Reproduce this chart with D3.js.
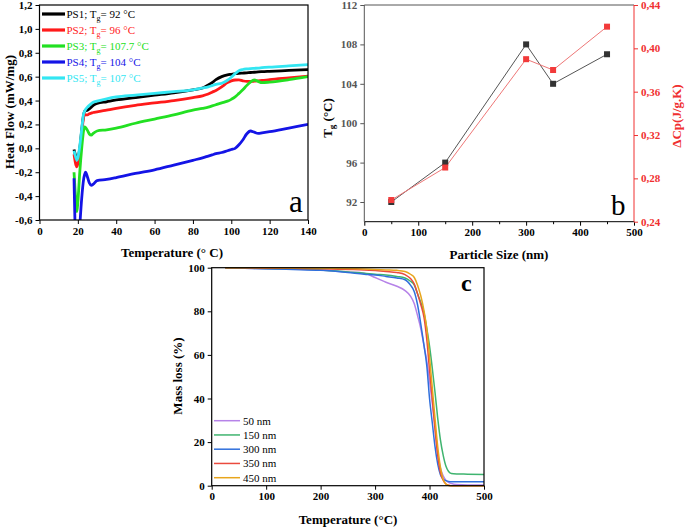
<!DOCTYPE html>
<html><head><meta charset="utf-8">
<script src="https://cdn.jsdelivr.net/npm/d3@7"></script>
<style>
body{margin:0;background:#fff;}
text{font-family:"Liberation Serif","Times New Roman",serif;}
</style></head>
<body><svg id="c" width="685" height="528"></svg>
<script>
// ---------- Panel a data (DSC) ----------
const dscTemps = [18,19,19.5,20,21,22,23,23.5,24,25,26,27,28,30,35,40,50,60,70,80,85,88,90,92,95,98,100,102,104,106,108,110,112,114,116,120,130,140];
const ps1 = [-0.01,-0.07,-0.09,-0.08,0.0,0.15,0.28,0.31,0.315,0.32,0.33,0.345,0.36,0.375,0.39,0.405,0.425,0.445,0.465,0.49,0.505,0.53,0.55,0.575,0.60,0.615,0.62,0.625,0.628,0.63,0.632,0.635,0.637,0.64,0.642,0.645,0.652,0.66];
const ps2 = [-0.05,-0.14,-0.155,-0.13,-0.03,0.12,0.26,0.28,0.28,0.28,0.29,0.295,0.30,0.305,0.32,0.335,0.36,0.38,0.40,0.425,0.44,0.455,0.47,0.485,0.515,0.55,0.565,0.572,0.573,0.565,0.56,0.56,0.562,0.565,0.568,0.575,0.59,0.605];
const ps3 = [-0.2,-0.45,-0.53,-0.45,-0.2,0.0,0.15,0.18,0.175,0.15,0.12,0.11,0.125,0.145,0.155,0.17,0.21,0.245,0.28,0.32,0.335,0.345,0.355,0.365,0.38,0.395,0.41,0.43,0.46,0.49,0.525,0.555,0.572,0.56,0.55,0.555,0.575,0.60];
const ps4 = [-0.25,-0.85,-0.9,-0.9,-0.65,-0.42,-0.26,-0.22,-0.2,-0.24,-0.29,-0.31,-0.3,-0.27,-0.26,-0.245,-0.21,-0.18,-0.14,-0.1,-0.08,-0.065,-0.055,-0.045,-0.035,-0.02,-0.01,0.0,0.03,0.07,0.12,0.145,0.135,0.125,0.13,0.14,0.17,0.20];
const ps5 = [-0.02,-0.08,-0.1,-0.08,0.02,0.16,0.29,0.31,0.325,0.345,0.36,0.375,0.385,0.395,0.415,0.43,0.445,0.46,0.475,0.49,0.505,0.515,0.525,0.535,0.545,0.57,0.595,0.625,0.65,0.66,0.665,0.668,0.67,0.672,0.675,0.68,0.69,0.70];
const psNames = ["PS1","PS2","PS3","PS4","PS5"];
const psTg = ["92","96","107.7","104","107"];
const psColors = ["#000000","#ff1a1a","#22e022","#1414e6","#33e6f2"];
const xTicksA = [0,20,40,60,80,100,120,140];
const yTicksA = [-0.6,-0.4,-0.2,0,0.2,0.4,0.6,0.8,1.0,1.2];

// ---------- Panel b data ----------
const particleSize = [50,150,300,350,450];
const tgValues = [92,96,108,104,107];
const dCpValues = [0.26,0.29,0.39,0.38,0.42];
const xTicksB = [0,100,200,300,400,500];
const yTicksB = [92,96,100,104,108,112];
const yTicksB2 = [0.24,0.28,0.32,0.36,0.40,0.44];

// ---------- Panel c data (TGA) ----------
const tgaTemps = [25,60,100,150,200,250,280,300,320,340,355,365,372,378,384,390,395,400,405,410,415,420,425,430,435,440,450,470,500];
const m50  = [100,99.8,99.5,99.3,99,98,97.5,95.5,93.3,91.5,89.5,87,83.5,78,72,64,57,48,38,27,15,8,4.5,2.5,1.5,1,0.5,0.3,0.3];
const m150 = [100,99.8,99.6,99.4,99,98,97.5,97,96.7,96,95.3,93.8,92,88,84,79,72,64,54,43,31,21,14,9,6.5,5.6,5.4,5.3,5.1];
const m300 = [100,99.8,99.5,99.2,98.8,97.8,97,96.7,96,95.3,94.5,92,89,83,74,64,55,40,29,18,10,5,3,2.3,1.9,1.8,1.8,1.8,1.8];
const m350 = [100,100,99.8,99.7,99.5,99.2,99,98.7,98.3,97.8,96.8,95,92.5,88,83,77,67,53,40,26,14,6,2.5,0.8,0.2,0,0,0,0];
const m450 = [100,100,100,99.9,99.8,99.6,99.4,99.2,99,98.8,98.3,97,95.5,92,87,80,72,59,45,31,18,8.5,3,0.8,0.1,0,0,0,0];
const tgaLabels = ["50 nm","150 nm","300 nm","350 nm","450 nm"];
const tgaColors = ["#b683e8","#3fb46f","#2f6fdc","#ea4a3e","#e8a51c"];
const xTicksC = [0,100,200,300,400,500];
const yTicksC = [0,20,40,60,80,100];

const svg = d3.select("#c");
const comma = (f) => (d) => d3.format(f)(d).replace(".", ",").replace("\u2212", "-");

function styleAxis(g, color, fontSize) {
  g.select(".domain").remove();
  g.selectAll(".tick line").attr("stroke", color);
  g.selectAll(".tick text").attr("fill", color).attr("font-weight", "bold")
    .attr("font-size", fontSize).attr("font-family", "Liberation Serif");
}

// ================= Panel a =================
const xA = d3.scaleLinear([0,140],[39.5,308]);
const yA = d3.scaleLinear([-0.6,1.2],[220,5]);
const gA = svg.append("g");
gA.append("clipPath").attr("id","clipA").append("rect")
  .attr("x", xA(0)).attr("y", yA(1.2)).attr("width", xA(140)-xA(0)).attr("height", yA(-0.6)-yA(1.2));
gA.append("g").attr("transform", `translate(0,${yA(-0.6)})`)
  .call(d3.axisBottom(xA).tickValues(xTicksA).tickSize(4).tickPadding(3))
  .call(g => styleAxis(g, "#000", 11));
gA.append("g").attr("transform", `translate(${xA(0)},0)`)
  .call(d3.axisLeft(yA).tickValues(yTicksA).tickFormat(comma(".1f")).tickSize(4).tickPadding(3))
  .call(g => styleAxis(g, "#000", 11));
const seriesA = [ps1, ps2, ps3, ps4, ps5];
const lineA = d3.line().curve(d3.curveMonotoneX);
const plotA = gA.append("g").attr("clip-path","url(#clipA)");
seriesA.forEach((vals, i) => {
  plotA.append("path")
    .attr("d", lineA(dscTemps.map((t, j) => [xA(t), yA(vals[j])])))
    .attr("fill","none").attr("stroke", psColors[i]).attr("stroke-width", 2.8)
    .attr("stroke-linejoin","round");
});
gA.append("rect").attr("x", xA(0)).attr("y", yA(1.2)).attr("width", xA(140)-xA(0))
  .attr("height", yA(-0.6)-yA(1.2)).attr("fill","none").attr("stroke","#000").attr("stroke-width",1.2);
// legend a
psNames.forEach((n, i) => {
  const ly = 14 + i*16;
  gA.append("line").attr("x1", 42).attr("x2", 65).attr("y1", ly).attr("y2", ly)
    .attr("stroke", psColors[i]).attr("stroke-width", 3.2);
  const t = gA.append("text").attr("x", 66.5).attr("y", ly + 4).attr("fill", psColors[i]).attr("font-size", 11);
  t.append("tspan").text(n + "; T");
  t.append("tspan").attr("font-size", 8).attr("dy", 3).text("g");
  t.append("tspan").attr("dy", -3).text("= " + psTg[i] + " \u00B0C");
});
gA.append("text").attr("x", 289).attr("y", 212).attr("font-size", 31).text("a");
gA.append("text").attr("transform", `translate(14,112) rotate(-90)`).attr("text-anchor","middle")
  .attr("font-weight","bold").attr("font-size",13).text("Heat Flow (mW/mg)");
gA.append("text").attr("x", 172).attr("y", 257).attr("text-anchor","middle")
  .attr("font-weight","bold").attr("font-size",13).text("Temperature (\u00B0 C)");

// ================= Panel b =================
const xB = d3.scaleLinear([0,500],[364.3,634]);
const yB = d3.scaleLinear([90,112],[221.7,5]);
const yB2 = d3.scaleLinear([0.24,0.44],[221.7,5]);
const gB = svg.append("g");
gB.append("g").attr("transform", `translate(0,${yB(90)})`)
  .call(d3.axisBottom(xB).tickValues(d3.range(0,501,50)).tickFormat(d => d % 100 === 0 ? d : "").tickSize(4).tickPadding(3))
  .call(g => styleAxis(g, "#000", 11))
  .call(g => g.selectAll(".tick").filter(d => d % 100 !== 0).select("line").attr("y2", 2.5));
gB.append("g").attr("transform", `translate(${xB(0)},0)`)
  .call(d3.axisLeft(yB).tickValues(yTicksB).tickSize(4).tickPadding(3))
  .call(g => styleAxis(g, "#555", 11));
gB.append("g").attr("transform", `translate(${xB(500)},0)`)
  .call(d3.axisRight(yB2).tickValues(yTicksB2).tickFormat(comma(".2f")).tickSize(4).tickPadding(3))
  .call(g => styleAxis(g, "#f03030", 11));
// frame
gB.append("line").attr("x1", xB(0)).attr("x2", xB(500)).attr("y1", yB(112)).attr("y2", yB(112)).attr("stroke","#555");
gB.append("line").attr("x1", xB(0)).attr("x2", xB(500)).attr("y1", yB(90)).attr("y2", yB(90)).attr("stroke","#000");
gB.append("line").attr("x1", xB(0)).attr("x2", xB(0)).attr("y1", yB(112)).attr("y2", yB(90)).attr("stroke","#555");
gB.append("line").attr("x1", xB(500)).attr("x2", xB(500)).attr("y1", yB(112)).attr("y2", yB(90)).attr("stroke","#f03030");
const lineB = d3.line();
gB.append("path").attr("d", lineB(particleSize.map((p,i)=>[xB(p), yB(tgValues[i])])))
  .attr("fill","none").attr("stroke","#555").attr("stroke-width",1);
gB.append("path").attr("d", lineB(particleSize.map((p,i)=>[xB(p), yB2(dCpValues[i])])))
  .attr("fill","none").attr("stroke","#ee7777").attr("stroke-width",1);
gB.selectAll(".mk1").data(particleSize).join("rect")
  .attr("x", (d)=>xB(d)-3).attr("y",(d,i)=>yB(tgValues[i])-3).attr("width",6).attr("height",6).attr("fill","#333");
gB.selectAll(".mk2").data(particleSize).join("rect")
  .attr("x", (d)=>xB(d)-3).attr("y",(d,i)=>yB2(dCpValues[i])-3).attr("width",6).attr("height",6).attr("fill","#f23a3a");
gB.append("text").attr("x", 611).attr("y", 215).attr("font-size", 29).text("b");
const tgT = gB.append("text").attr("transform", `translate(332,118) rotate(-90)`).attr("text-anchor","middle")
  .attr("font-weight","bold").attr("font-size",13);
tgT.append("tspan").text("T");
tgT.append("tspan").attr("font-size",9).attr("dy",3).text("g");
tgT.append("tspan").attr("dy",-3).text(" (\u00B0C)");
gB.append("text").attr("transform", `translate(681,116) rotate(-90)`).attr("text-anchor","middle")
  .attr("font-weight","bold").attr("font-size",13).attr("fill","#f03030").text("\u0394Cp(J/g.K)");
gB.append("text").attr("x", 499).attr("y", 259).attr("text-anchor","middle")
  .attr("font-weight","bold").attr("font-size",13).text("Particle Size (nm)");

// ================= Panel c =================
const xC = d3.scaleLinear([0,500],[211.7,484]);
const yC = d3.scaleLinear([0,100],[485.7,267.7]);
const gC = svg.append("g");
gC.append("g").attr("transform", `translate(0,${yC(0)})`)
  .call(d3.axisBottom(xC).tickValues(xTicksC).tickSize(4).tickPadding(3))
  .call(g => styleAxis(g, "#000", 11));
gC.append("g").attr("transform", `translate(${xC(0)},0)`)
  .call(d3.axisLeft(yC).tickValues(yTicksC).tickSize(4).tickPadding(3))
  .call(g => styleAxis(g, "#000", 11));
const seriesC = [m50, m150, m300, m350, m450];
const lineC = d3.line().curve(d3.curveMonotoneX);
seriesC.forEach((vals, i) => {
  gC.append("path").attr("d", lineC(tgaTemps.map((t,j)=>[xC(t), yC(vals[j])])))
    .attr("fill","none").attr("stroke", tgaColors[i]).attr("stroke-width", 1.5);
});
gC.append("rect").attr("x", xC(0)).attr("y", yC(100)).attr("width", xC(500)-xC(0))
  .attr("height", yC(0)-yC(100)).attr("fill","none").attr("stroke","#000").attr("stroke-width",1.2);
tgaLabels.forEach((l,i) => {
  const ly = 420.7 + i*14.25;
  gC.append("line").attr("x1",214).attr("x2",240).attr("y1",ly).attr("y2",ly)
    .attr("stroke", tgaColors[i]).attr("stroke-width",1.5);
  gC.append("text").attr("x",243).attr("y",ly+4).attr("font-size",11).text(l);
});
gC.append("text").attr("x", 461).attr("y", 291).attr("font-size", 24).attr("font-weight","bold").text("c");
gC.append("text").attr("transform", `translate(182,376) rotate(-90)`).attr("text-anchor","middle")
  .attr("font-weight","bold").attr("font-size",13).text("Mass loss (%)");
gC.append("text").attr("x", 348).attr("y", 524).attr("text-anchor","middle")
  .attr("font-weight","bold").attr("font-size",13).text("Temperature (\u00B0C)");
</script></body></html>
